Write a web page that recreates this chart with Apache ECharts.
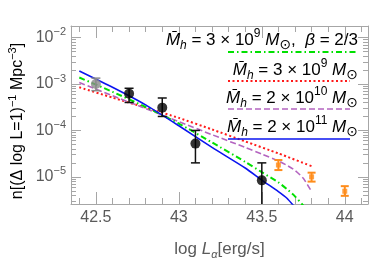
<!DOCTYPE html>
<html><head><meta charset="utf-8">
<script src="https://cdn.jsdelivr.net/npm/echarts@6/dist/echarts.min.js"></script>
<style>html,body{margin:0;padding:0;background:#fff}#c{width:374px;height:265px}</style>
</head><body><div id="c"></div>
<script>
// ---- data ----
const xTickLabels = [42.5, 43, 43.5, 44];
const yTickExps = [-5, -4, -3, -2];

const blueX = [42.4, 42.6, 42.8, 43.0, 43.2, 43.4, 43.5, 43.6, 43.65, 43.7];
const blueN = [1.91e-3, 8.5e-4, 3.55e-4, 1.26e-4, 4.3e-5, 1.55e-5, 8.5e-6, 4.8e-6, 3.5e-6, 2.2e-6];

const greenX = [42.4, 42.6, 42.8, 43.0, 43.2, 43.4, 43.5, 43.6, 43.65, 43.7, 43.75];
const greenN = [1.38e-3, 6.8e-4, 3.2e-4, 1.41e-4, 5.5e-5, 2.1e-5, 1.26e-5, 7.6e-6, 5.5e-6, 3.8e-6, 2.4e-6];

const purpleX = [42.4, 42.6, 42.8, 43.0, 43.2, 43.4, 43.5, 43.6, 43.65, 43.7, 43.75, 43.8];
const purpleN = [1.08e-3, 5.6e-4, 2.95e-4, 1.55e-4, 8.1e-5, 4.3e-5, 3.1e-5, 2.2e-5, 1.78e-5, 1.38e-5, 9.3e-6, 4.8e-6];

const redX = [42.4, 42.6, 42.8, 43.0, 43.2, 43.4, 43.6, 43.8];
const redN = [8.5e-4, 5.1e-4, 3.1e-4, 1.86e-4, 1.05e-4, 5.8e-5, 3.2e-5, 1.7e-5];

// points: x, n, lower, upper
const grayPtX = [42.5];
const grayPtN = [1.0e-3];
const grayPtLo = [7.2e-4];
const grayPtHi = [1.34e-3];

const blackPtX = [42.7, 42.9, 43.1, 43.5];
const blackPtN = [6.2e-4, 3.1e-4, 5.2e-5, 8.4e-6];
const blackPtLo = [4.0e-4, 2.0e-4, 2.0e-5, 1.0e-6];
const blackPtHi = [8.1e-4, 5.0e-4, 1.0e-4, 2.0e-5];

const orangePtX = [43.6, 43.8, 44.0];
const orangePtN = [1.8e-5, 1.0e-5, 4.9e-6];
const orangePtLo = [1.4e-5, 7.9e-6, 3.9e-6];
const orangePtHi = [2.3e-5, 1.23e-5, 6.3e-6];

// ---- build ----
const L = Math.log10;
const X_MIN = 42.35, X_MAX = 44.14;
const Y_MIN = -5.585, Y_MAX = -1.75;

const xMinor = [];
for (let i = 424; i <= 441; i++) { const v = i / 10; if (!xTickLabels.some(t => Math.abs(t - v) < 1e-9)) xMinor.push(v); }
const yMajor = yTickExps.slice();
const yMinor = [];
for (let n = -6; n <= -2; n++) for (let k = 2; k <= 9; k++) { const v = n + L(k); if (v > Y_MIN && v < Y_MAX) yMinor.push(v); }

const C_FRAME = '#a6a6a6';
const C_TXT = '#5a5a5a';
const FONT = 'Liberation Sans, Arial, sans-serif';

function lineData(xs, ns) { return xs.map((x, i) => [x, L(ns[i])]); }
function ptData(xs, ns, lo, hi) { return xs.map((x, i) => [x, L(ns[i]), L(lo[i]), L(hi[i])]); }

function errRender(color, lw, cap) {
  return function (params, api) {
    const x = api.value(0);
    const p0 = api.coord([x, api.value(2)]);
    const p1 = api.coord([x, api.value(3)]);
    const st = { stroke: color, lineWidth: lw };
    return {
      type: 'group',
      children: [
        { type: 'line', shape: { x1: p0[0], y1: p0[1], x2: p1[0], y2: p1[1] }, style: st },
        { type: 'line', shape: { x1: p0[0] - cap, y1: p0[1], x2: p0[0] + cap, y2: p0[1] }, style: st },
        { type: 'line', shape: { x1: p1[0] - cap, y1: p1[1], x2: p1[0] + cap, y2: p1[1] }, style: st }
      ]
    };
  };
}

const baseX = { type: 'value', min: X_MIN, max: X_MAX, splitLine: { show: false } };
const baseY = { type: 'value', min: Y_MIN, max: Y_MAX, splitLine: { show: false } };
const frameLine = { show: true, lineStyle: { color: C_FRAME, width: 1 } };
const noLine = { show: false };

const xAxes = [
  Object.assign({}, baseX, {
    position: 'bottom', axisLine: frameLine,
    axisTick: { inside: true, length: 12, lineStyle: { color: C_FRAME }, customValues: xTickLabels },
    axisLabel: { customValues: xTickLabels, color: C_TXT, fontSize: 16, fontFamily: FONT, margin: 6,
      formatter: v => String(v) },
    name: '{n|log }{i|L}{s|α}{n|[erg/s]}', nameLocation: 'middle', nameGap: 34,
    nameTextStyle: { rich: {
      n: { fontSize: 17, fontFamily: FONT, color: C_TXT, lineHeight: 22 },
      i: { fontSize: 17, fontFamily: FONT, color: C_TXT, fontStyle: 'italic', lineHeight: 22 },
      s: { fontSize: 11, fontFamily: FONT, color: C_TXT, fontStyle: 'italic', verticalAlign: 'bottom', lineHeight: 12 }
    } }
  }),
  Object.assign({}, baseX, {
    position: 'bottom', axisLine: noLine, axisLabel: { show: false },
    axisTick: { inside: true, length: 6, lineStyle: { color: C_FRAME }, customValues: xMinor }
  }),
  Object.assign({}, baseX, {
    position: 'top', axisLine: frameLine, axisLabel: { show: false },
    axisTick: { inside: true, length: 12, lineStyle: { color: C_FRAME }, customValues: xTickLabels }
  }),
  Object.assign({}, baseX, {
    position: 'top', axisLine: noLine, axisLabel: { show: false },
    axisTick: { inside: true, length: 6, lineStyle: { color: C_FRAME }, customValues: xMinor }
  })
];

const yAxes = [
  Object.assign({}, baseY, {
    position: 'left', axisLine: frameLine,
    axisTick: { inside: true, length: 10, lineStyle: { color: C_FRAME }, customValues: yMajor },
    axisLabel: { customValues: yMajor, margin: 5,
      formatter: v => '{b|10}{s|\u2212' + Math.abs(Math.round(v)) + '}',
      rich: {
        b: { fontSize: 16, fontFamily: FONT, color: C_TXT, lineHeight: 22 },
        s: { fontSize: 11, fontFamily: FONT, color: C_TXT, verticalAlign: 'top', lineHeight: 12 }
      } }
  }),
  Object.assign({}, baseY, {
    position: 'left', axisLine: noLine, axisLabel: { show: false },
    axisTick: { inside: true, length: 5, lineStyle: { color: C_FRAME }, customValues: yMinor }
  }),
  Object.assign({}, baseY, {
    position: 'right', axisLine: frameLine, axisLabel: { show: false },
    axisTick: { inside: true, length: 10, lineStyle: { color: C_FRAME }, customValues: yMajor }
  }),
  Object.assign({}, baseY, {
    position: 'right', axisLine: noLine, axisLabel: { show: false },
    axisTick: { inside: true, length: 5, lineStyle: { color: C_FRAME }, customValues: yMinor }
  })
];

const C_GREEN = '#00e000', C_RED = '#ff1a1a', C_PURPLE = '#b464c0', C_BLUE = '#0a14f0', C_ORANGE = '#ff8c1a';

const legRich = {
  n: { fontSize: 17, fontFamily: FONT, color: '#000', lineHeight: 24 },
  m: { fontSize: 17, fontFamily: FONT, color: '#000', fontStyle: 'italic', lineHeight: 24 },
  h: { fontSize: 12, fontFamily: FONT, color: '#000', fontStyle: 'italic', verticalAlign: 'bottom', lineHeight: 14 },
  sup: { fontSize: 12, fontFamily: FONT, color: '#000', verticalAlign: 'top', lineHeight: 12 },
  o: { fontSize: 14, fontFamily: 'DejaVu Sans', color: '#000', verticalAlign: 'bottom', lineHeight: 6 }
};
function legText(mant, exp, extra) {
  return '{m|M\u0304}{h|h}{n| = ' + mant + ' \u00d7 10}{sup|' + exp + '}{n| }{m|M}{o|\u2299}' + (extra || '');
}
const legends = [
  { t: legText('3', '9', '{n|,  }{m|\u03b2}{n| = 2/3}'), y: 40, ly: 52, c: C_GREEN, dash: [6, 3, 1.5, 3], w: 2, x2: 356 },
  { t: legText('3', '9'), y: 70, ly: 81, c: C_RED, dash: [2, 2.5], w: 2, x2: 350 },
  { t: legText('2', '10'), y: 98, ly: 109, c: C_PURPLE, dash: [6, 3], w: 1.6, x2: 350 },
  { t: legText('2', '11'), y: 127, ly: 139, c: C_BLUE, dash: null, w: 1.6, x2: 350 }
];
const graphics = [];
legends.forEach(l => {
  graphics.push({ type: 'line', shape: { x1: 228, y1: l.ly, x2: l.x2, y2: l.ly },
    style: { stroke: l.c, lineWidth: l.w, lineDash: l.dash || undefined }, z: 5 });
  graphics.push({ type: 'text', x: 358, y: l.y, style: { text: l.t, rich: legRich, align: 'right', verticalAlign: 'middle' }, z: 6 });
});
// y-axis title
graphics.push({ type: 'text', x: 18, y: 121, rotation: Math.PI / 2,
  style: { text: '{n|n[(\u0394 log L=1)}{s|\u22121}{n| Mpc}{s|\u22123}{n|]}', align: 'center', verticalAlign: 'middle',
    rich: {
      n: { fontSize: 16, fontFamily: FONT, color: C_TXT, lineHeight: 22 },
      s: { fontSize: 11, fontFamily: FONT, color: C_TXT, verticalAlign: 'top', lineHeight: 12 }
    } } });

const chart = echarts.init(document.getElementById('c'), null, { renderer: 'canvas' });
chart.setOption({
  animation: false,
  grid: { left: 71, right: 6, top: 26, bottom: 56, containLabel: false },
  xAxis: xAxes,
  yAxis: yAxes,
  graphic: graphics,
  series: [
    { type: 'line', data: lineData(redX, redN), showSymbol: false, smooth: 0.2, lineStyle: { color: C_RED, width: 2, type: [2, 2.5] }, z: 3 },
    { type: 'line', data: lineData(purpleX, purpleN), showSymbol: false, smooth: 0.2, lineStyle: { color: C_PURPLE, width: 1.6, type: [6, 3] }, z: 3 },
    { type: 'line', data: lineData(greenX, greenN), showSymbol: false, smooth: 0.2, lineStyle: { color: C_GREEN, width: 2, type: [6, 3, 1.5, 3] }, z: 3 },
    { type: 'line', data: lineData(blueX, blueN), showSymbol: false, smooth: 0.2, lineStyle: { color: C_BLUE, width: 1.6 }, z: 3 },
    { type: 'custom', clip: true, data: ptData(grayPtX, grayPtN, grayPtLo, grayPtHi), renderItem: errRender('#8a8a8a', 1.5, 4.5), z: 4 },
    { type: 'scatter', data: lineData(grayPtX, grayPtN), symbol: 'circle', symbolSize: 10, itemStyle: { color: '#8a8a8a' }, z: 4 },
    { type: 'custom', clip: true, data: ptData(blackPtX, blackPtN, blackPtLo, blackPtHi), renderItem: errRender('#111', 1.5, 4.5), z: 4 },
    { type: 'scatter', data: lineData(blackPtX, blackPtN), symbol: 'circle', symbolSize: 10, itemStyle: { color: '#000' }, z: 4 },
    { type: 'custom', clip: true, data: ptData(orangePtX, orangePtN, orangePtLo, orangePtHi), renderItem: errRender(C_ORANGE, 2, 4), z: 4 },
    { type: 'scatter', data: lineData(orangePtX, orangePtN), symbol: 'rect', symbolSize: 5, itemStyle: { color: C_ORANGE }, z: 4 }
  ]
});
</script></body></html>
